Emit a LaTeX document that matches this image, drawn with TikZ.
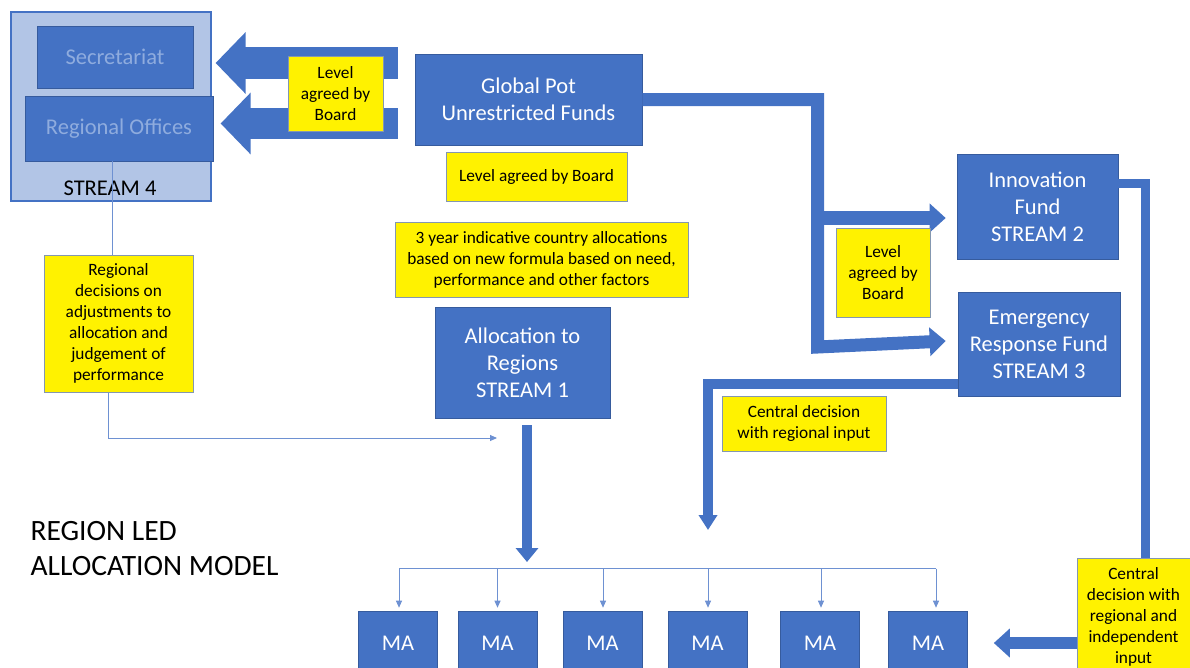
\documentclass[tikz,border=0pt]{standalone}
\usepackage{fontspec}
\setmainfont{Carlito}
\usetikzlibrary{calc,arrows.meta}
\definecolor{mblue}{RGB}{68,114,196}
\definecolor{mpale}{RGB}{178,197,230}
\definecolor{mfaint}{RGB}{143,172,222}
\definecolor{mthin}{RGB}{110,145,210}
\definecolor{mnote}{RGB}{132,151,176}

\begin{document}
\begin{tikzpicture}[x=1pt,y=-1pt,
  bluebox/.style={draw=mblue!80!black,line width=.6pt,fill=mblue,text=white,
    align=center,inner sep=0pt,font=\fontsize{22.5}{27}\selectfont},
  note/.style={draw=mnote,line width=1pt,fill=yellow,text=black,
    align=center,inner sep=0pt,font=\fontsize{17.3}{21}\selectfont},
  pipe/.style={draw=mblue,line join=miter},
  conn/.style={draw=mthin,line width=.9pt},
  >={Triangle[length=7pt,width=6pt]}]
 \useasboundingbox (0,0) rectangle (1190,667);
 \node[draw=mblue,line width=1.2pt,fill=mpale,minimum width=200pt,minimum height=189pt] (s4) at (111,106.5) {};
 \node[bluebox,text=mfaint,minimum width=156pt,minimum height=62pt] (sec) at (115,57) {Secretariat};
 \node[bluebox,text=mfaint,minimum width=188pt,minimum height=65pt] (regoff) at (119,128.5) {Regional Offices};
 \node[font=\fontsize{22.5}{24}\selectfont] (s4lbl) at (110,188) {STREAM 4};
 \node[bluebox,minimum width=227pt,minimum height=91pt] (gpot) at (528.5,99.5) {Global Pot\\Unrestricted Funds};
 \node[note,minimum width=181pt,minimum height=49pt] (lvl2) at (536.5,176.5) {Level agreed by Board};
 \node[note,minimum width=293pt,minimum height=75pt] (yr3) at (541.5,259.5)
   {3 year indicative country allocations\\based on new formula based on need,\\performance and other factors};
 \node[bluebox,minimum width=175pt,minimum height=111pt] (alloc) at (522.5,362.5) {Allocation to\\Regions\\STREAM 1};
 \node[bluebox,minimum width=161pt,minimum height=105pt] (innov) at (1037.5,206.5) {Innovation\\Fund\\STREAM 2};
 \node[bluebox,minimum width=162pt,minimum height=104pt] (emerg) at (1039,344) {Emergency\\Response Fund\\STREAM 3};
 \node[note,minimum width=149pt,minimum height=137pt] (regdec) at (118.5,323.5)
   {Regional\\decisions on\\adjustments to\\allocation and\\judgement of\\performance};
 \node[note,minimum width=164pt,minimum height=55pt] (cdec) at (804,423.5) {Central decision\\with regional input};
 \node[note,minimum width=113pt,minimum height=118pt] (cdec2) at (1133.5,617)
   {Central\\decision with\\regional and\\independent\\input};
 \foreach \i/\x in {1/398,2/497.5,3/602.5,4/707.5,5/820,6/928}
   \node[bluebox,minimum width=79pt,minimum height=64pt] (ma\i) at (\x,643) {MA};
 \node[anchor=west,align=left,font=\fontsize{29.5}{35}\selectfont] (model) at (27,549) {REGION LED\\ALLOCATION MODEL};

 \draw[pipe,line width=32pt,-{Triangle[width=60pt,length=30pt]}]
   ($(gpot.west)+(-17,-36.5)$) -- ($(s4.east)+(4,-43.5)$);
 \draw[pipe,line width=31pt,-{Triangle[width=60pt,length=30pt]}]
   ($(gpot.west)+(-17,24)$) -- ($(s4.east)+(9,17)$);
 \node[note,minimum width=95pt,minimum height=75pt] (lvl1) at (335.5,93.5) {Level\\agreed by\\Board};

 \draw[pipe,line width=13pt,-{Triangle[width=28pt,length=16pt]}]
   (gpot.east) -| ($(emerg.west)+(-140,3)$) -- ($(emerg.west)+(-12,-3)$);
 \draw[pipe,line width=14pt,-{Triangle[width=28pt,length=16pt]}]
   ($(innov.west)+(-140,11.5)$) -- ($(innov.west)+(-11,11.5)$);
 \node[note,minimum width=94pt,minimum height=89pt] (lvl3) at (883,272.5) {Level\\agreed by\\Board};
 \draw[pipe,line width=9pt] ($(innov.east)+(0,-23.5)$) -| ($(cdec2.north)+(11.5,0)$);
 \coordinate (cdin) at (708,530);
 \draw[pipe,line width=10pt,-{Triangle[width=18pt,length=15pt]}]
   ($(emerg.west)+(0,39.5)$) -| (cdin);
 \coordinate (rowin) at (527,562);
 \draw[pipe,line width=10pt,-{Triangle[width=22pt,length=14pt]}]
   ($(alloc.south)+(4.5,7)$) -- (rowin);
 \draw[pipe,line width=12pt,-{Triangle[width=28pt,length=16pt]}]
   ($(cdec2.west)+(0,26)$) -- ($(ma6.east)+(26,0)$);

 \coordinate (regin) at (497,438);
 \draw[conn] ($(regoff.south)+(-7,0)$) -- ($(regdec.north)+(-6.5,0)$);
 \draw[conn,->] ($(regdec.south)+(-10.5,0)$) |- (regin);
 \draw[conn] ($(ma1.north)+(1,-42)$) -- ($(ma6.north)+(8,-42)$);
 \foreach \m/\s in {ma1/1,ma2/0,ma3/.5,ma4/.5,ma5/1,ma6/8}
   \draw[conn,->] ($(\m.north)+(\s,-42)$) -- ($(\m.north)+(\s,-3)$);
\end{tikzpicture}
\end{document}
